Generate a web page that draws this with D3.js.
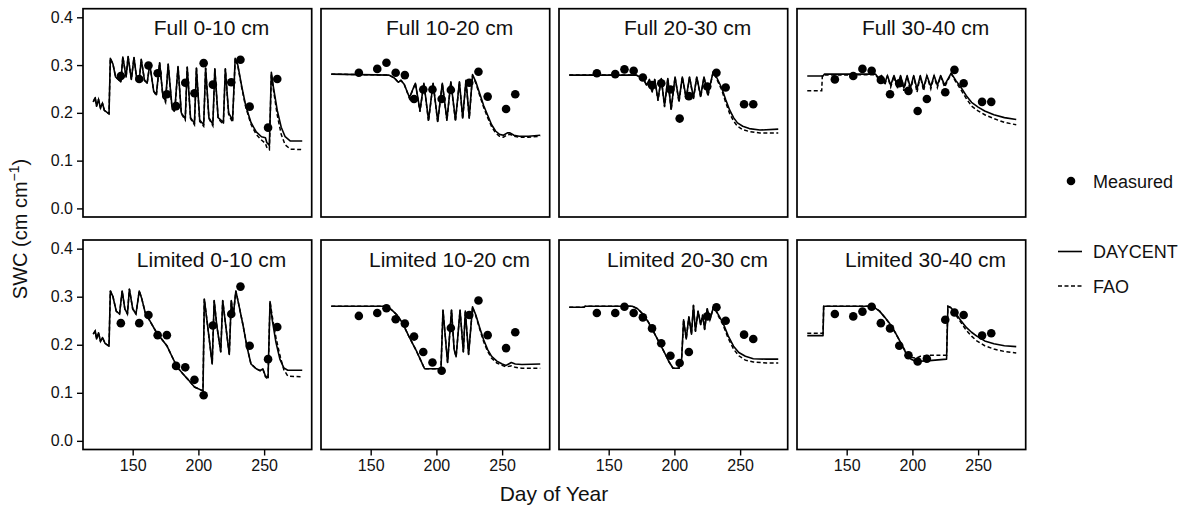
<!DOCTYPE html>
<html>
<head>
<meta charset="utf-8">
<script src="https://cdn.jsdelivr.net/npm/d3@7"></script>
<style>
  html, body { margin: 0; padding: 0; background: #fff; }
  svg { display: block; font-family: "Liberation Sans", Arial, Helvetica, sans-serif; }
</style>
</head>
<body>
<svg id="chart" width="1188" height="510"></svg>
<script>
// ---------------- DATA ----------------
const panelTitles = [
  "Full 0-10 cm", "Full 10-20 cm", "Full 20-30 cm", "Full 30-40 cm",
  "Limited 0-10 cm", "Limited 10-20 cm", "Limited 20-30 cm", "Limited 30-40 cm"
];
const xTicks = [150, 200, 250];
const yTicks = [0.0, 0.1, 0.2, 0.3, 0.4];
const yTickLabels = ["0.0", "0.1", "0.2", "0.3", "0.4"];
const xTitle = "Day of Year";
const legendLabels = ["Measured", "DAYCENT", "FAO"];

// measurement days (weekly sampling)
const measuredDays = [141, 155, 162, 169, 176, 183, 190, 197, 204, 211, 225, 232, 239, 253, 260];

const measured_full_0_10   = [0.277, 0.271, 0.299, 0.283, 0.239, 0.214, 0.263, 0.241, 0.304, 0.259, 0.264, 0.311, 0.213, 0.169, 0.271];
const measured_full_10_20  = [0.284, 0.292, 0.305, 0.284, 0.279, 0.229, 0.249, 0.249, 0.229, 0.248, 0.263, 0.286, 0.234, 0.208, 0.239];
const measured_full_20_30  = [0.283, 0.281, 0.291, 0.288, 0.274, 0.258, 0.262, 0.249, 0.188, 0.235, 0.255, 0.284, 0.253, 0.218, 0.218];
const measured_full_30_40  = [0.270, 0.277, 0.292, 0.288, 0.269, 0.239, 0.262, 0.246, 0.204, 0.229, 0.243, 0.290, 0.262, 0.223, 0.223];
const measured_lim_0_10    = [0.245, 0.245, 0.262, 0.220, 0.220, 0.156, 0.153, 0.127, 0.095, 0.240, 0.264, 0.321, 0.198, 0.170, 0.237];
const measured_lim_10_20   = [0.260, 0.266, 0.276, 0.253, 0.244, 0.217, 0.185, 0.163, 0.146, 0.235, 0.262, 0.292, 0.220, 0.193, 0.226];
const measured_lim_20_30   = [0.266, 0.266, 0.279, 0.266, 0.257, 0.234, 0.203, 0.177, 0.162, 0.185, 0.259, 0.278, 0.250, 0.221, 0.212];
const measured_lim_30_40   = [0.264, 0.259, 0.269, 0.279, 0.245, 0.234, 0.198, 0.178, 0.165, 0.171, 0.252, 0.267, 0.262, 0.219, 0.224];

// simulated series: [day, SWC]
const daycent_full_0_10 = [
  [120,0.223],[121.5,0.232],[122.5,0.214],[124,0.228],[125.5,0.210],[127,0.220],[128.5,0.205],[132,0.198],
  [133,0.314],[135,0.302],[137,0.275],[141,0.265],[142.5,0.317],[145,0.275],[146.5,0.318],[149,0.270],
  [151,0.316],[153,0.272],[155,0.268],[156.5,0.312],[159,0.268],[161,0.262],[163,0.302],[166,0.245],
  [168,0.238],[170.5,0.305],[173,0.235],[175,0.225],[177,0.302],[180,0.210],[182,0.205],[184.5,0.297],
  [187,0.200],[190,0.188],[191.5,0.296],[194,0.190],[197,0.178],[198.5,0.294],[201,0.185],[204,0.175],
  [205.5,0.294],[208,0.190],[211,0.176],[212.5,0.292],[215,0.190],[219,0.180],[220.5,0.292],[223,0.200],
  [226,0.185],[228,0.314],[230,0.300],[233,0.255],[236,0.215],[240,0.180],[244,0.160],[248,0.150],
  [251,0.148],[252,0.138],[254,0.132],[255.5,0.285],[257,0.255],[260,0.205],[263,0.170],[266,0.150],
  [270,0.141],[279,0.141]
];
const fao_full_0_10 = [
  [120,0.223],[121.5,0.232],[122.5,0.214],[124,0.228],[125.5,0.210],[127,0.220],[128.5,0.205],[132,0.198],
  [133,0.314],[135,0.302],[137,0.275],[141,0.265],[142.5,0.317],[145,0.275],[146.5,0.318],[149,0.270],
  [151,0.316],[153,0.272],[155,0.268],[156.5,0.312],[159,0.268],[161,0.262],[163,0.302],[166,0.245],
  [168,0.236],[170.5,0.305],[173,0.233],[175,0.222],[177,0.302],[180,0.208],[182,0.202],[184.5,0.297],
  [187,0.198],[190,0.185],[191.5,0.296],[194,0.188],[197,0.175],[198.5,0.294],[201,0.182],[204,0.172],
  [205.5,0.294],[208,0.188],[211,0.173],[212.5,0.292],[215,0.188],[219,0.176],[220.5,0.292],[223,0.197],
  [226,0.180],[228,0.314],[230,0.298],[233,0.252],[236,0.212],[240,0.176],[244,0.155],[248,0.143],
  [251,0.136],[252,0.128],[254,0.123],[255.5,0.282],[257,0.250],[260,0.195],[263,0.155],[266,0.133],
  [270,0.124],[279,0.123]
];

const daycent_full_10_20 = [
  [120,0.281],[164,0.279],[168,0.273],[171,0.264],[173,0.268],[175.5,0.260],[179.5,0.232],[184,0.262],
  [187.5,0.205],[190.5,0.262],[194,0.185],[197.5,0.262],[201,0.182],[204.5,0.262],[208,0.186],[211,0.265],
  [214.5,0.185],[217.5,0.265],[220,0.190],[222.5,0.268],[225,0.190],[227.5,0.280],[230,0.265],[233,0.240],
  [236,0.215],[239,0.195],[242,0.175],[245,0.162],[248,0.155],[251,0.153],[254,0.158],[256,0.158],
  [259,0.153],[263,0.151],[270,0.151],[279,0.153]
];
const fao_full_10_20 = [
  [120,0.281],[164,0.279],[168,0.273],[171,0.264],[173,0.268],[175.5,0.260],[179.5,0.230],[184,0.262],
  [187.5,0.202],[190.5,0.262],[194,0.182],[197.5,0.262],[201,0.180],[204.5,0.262],[208,0.183],[211,0.265],
  [214.5,0.182],[217.5,0.265],[220,0.187],[222.5,0.268],[225,0.188],[227.5,0.278],[230,0.262],[233,0.236],
  [236,0.211],[239,0.190],[242,0.171],[245,0.158],[248,0.151],[251,0.149],[254,0.154],[256,0.155],
  [259,0.151],[263,0.149],[270,0.149],[279,0.151]
];

const daycent_full_20_30 = [
  [120,0.279],[171,0.279],[174,0.275],[177,0.268],[179,0.258],[181,0.270],[183,0.245],[185,0.270],
  [187.5,0.228],[190,0.272],[192.5,0.215],[195,0.272],[197.5,0.208],[200.5,0.275],[203.5,0.225],[206,0.275],
  [209,0.232],[211.5,0.275],[214.5,0.232],[217,0.275],[220,0.235],[222.5,0.275],[225.5,0.238],[229.5,0.286],
  [232,0.275],[236,0.252],[239,0.228],[242,0.206],[245,0.190],[248,0.179],[252,0.172],[257,0.167],
  [265,0.164],[279,0.166]
];
const fao_full_20_30 = [
  [120,0.279],[171,0.279],[174,0.275],[177,0.268],[179,0.256],[181,0.270],[183,0.242],[185,0.270],
  [187.5,0.225],[190,0.272],[192.5,0.212],[195,0.272],[197.5,0.205],[200.5,0.275],[203.5,0.222],[206,0.275],
  [209,0.229],[211.5,0.275],[214.5,0.229],[217,0.275],[220,0.232],[222.5,0.275],[225.5,0.235],[229.5,0.285],
  [232,0.272],[236,0.248],[239,0.222],[242,0.199],[245,0.183],[248,0.172],[252,0.165],[257,0.161],
  [265,0.158],[279,0.158]
];

const daycent_full_30_40 = [
  [120,0.277],[132,0.277],[133,0.281],[172,0.281],[174.5,0.272],[176.5,0.278],[179,0.262],[181,0.278],
  [183.5,0.258],[186,0.278],[188.5,0.255],[191,0.278],[193.5,0.252],[196,0.278],[198.5,0.252],[201,0.278],
  [203.5,0.250],[206,0.278],[208.5,0.252],[211,0.278],[214,0.255],[216.5,0.278],[219,0.258],[221.5,0.278],
  [224.5,0.258],[229.5,0.283],[233,0.268],[237,0.253],[241,0.236],[245,0.222],[250,0.212],[255,0.204],
  [262,0.196],[270,0.190],[279,0.186]
];
const fao_full_30_40 = [
  [120,0.246],[131,0.246],[131.5,0.279],[172,0.280],[174.5,0.270],[176.5,0.277],[179,0.258],[181,0.277],
  [183.5,0.254],[186,0.277],[188.5,0.250],[191,0.277],[193.5,0.246],[196,0.277],[198.5,0.245],[201,0.277],
  [203.5,0.243],[206,0.277],[208.5,0.246],[211,0.277],[214,0.250],[216.5,0.277],[219,0.253],[221.5,0.277],
  [224.5,0.254],[229.5,0.282],[233,0.265],[237,0.248],[241,0.230],[245,0.214],[250,0.204],[255,0.196],
  [262,0.188],[270,0.180],[279,0.175]
];

const daycent_lim_0_10 = [
  [120,0.222],[121.5,0.229],[122.5,0.212],[124,0.225],[125.5,0.207],[127,0.215],[129,0.203],[132,0.197],
  [133,0.312],[135,0.300],[137.5,0.270],[140,0.264],[142,0.312],[144,0.275],[146,0.264],[147.5,0.316],
  [150,0.275],[152.5,0.264],[155,0.312],[157,0.295],[159.5,0.267],[163,0.250],[168,0.226],[172,0.212],
  [176,0.198],[180,0.175],[184,0.153],[188,0.140],[192,0.128],[197,0.112],[203.5,0.104],[204.5,0.295],
  [207,0.240],[210.5,0.160],[212,0.292],[214,0.240],[217,0.185],[218.5,0.292],[221,0.235],[223.5,0.180],
  [225,0.292],[226.5,0.260],[228.5,0.312],[231,0.280],[234,0.240],[237,0.195],[240,0.160],[244,0.150],
  [247,0.146],[249,0.150],[251,0.135],[253,0.132],[254.5,0.290],[256,0.255],[259,0.205],[262,0.170],
  [265,0.152],[268,0.147],[279,0.147]
];
const fao_lim_0_10 = [
  [120,0.222],[121.5,0.229],[122.5,0.212],[124,0.225],[125.5,0.207],[127,0.215],[129,0.203],[132,0.197],
  [133,0.312],[135,0.300],[137.5,0.270],[140,0.264],[142,0.312],[144,0.275],[146,0.264],[147.5,0.316],
  [150,0.275],[152.5,0.264],[155,0.312],[157,0.295],[159.5,0.267],[163,0.250],[168,0.226],[172,0.212],
  [176,0.198],[180,0.175],[184,0.153],[188,0.140],[192,0.128],[197,0.112],[203.5,0.104],[204.5,0.295],
  [207,0.240],[210.5,0.160],[212,0.292],[214,0.240],[217,0.185],[218.5,0.292],[221,0.235],[223.5,0.180],
  [225,0.292],[226.5,0.260],[228.5,0.312],[231,0.280],[234,0.240],[237,0.195],[240,0.160],[244,0.150],
  [247,0.146],[249,0.150],[251,0.133],[253,0.128],[254.5,0.290],[256,0.262],[259,0.215],[262,0.178],
  [265,0.148],[268,0.135],[279,0.133]
];

const daycent_lim_10_20 = [
  [120,0.280],[160,0.280],[164,0.277],[167,0.270],[170,0.262],[173,0.250],[176,0.235],[179,0.218],
  [182,0.202],[185,0.186],[188,0.168],[191,0.150],[203.5,0.150],[205,0.272],[208.5,0.163],[211.5,0.272],
  [213.5,0.190],[215,0.175],[218,0.272],[220.5,0.185],[222,0.270],[224.5,0.180],[227.5,0.279],[230,0.262],
  [233,0.235],[236,0.210],[239,0.190],[242,0.176],[246,0.166],[250,0.160],[253,0.157],[255,0.160],
  [257,0.163],[260,0.160],[265,0.159],[279,0.160]
];
const fao_lim_10_20 = [
  [120,0.280],[160,0.280],[164,0.277],[167,0.270],[170,0.262],[173,0.250],[176,0.235],[179,0.218],
  [182,0.202],[185,0.186],[188,0.168],[191,0.150],[203.5,0.150],[205,0.272],[208.5,0.163],[211.5,0.272],
  [213.5,0.190],[215,0.175],[218,0.272],[220.5,0.185],[222,0.270],[224.5,0.180],[227.5,0.278],[230,0.260],
  [233,0.232],[236,0.206],[239,0.186],[242,0.172],[246,0.162],[250,0.157],[253,0.154],[255,0.155],
  [257,0.156],[260,0.153],[265,0.151],[279,0.151]
];

const daycent_lim_20_30 = [
  [120,0.278],[131,0.278],[132,0.280],[168,0.280],[172,0.275],[176,0.264],[180,0.248],[184,0.228],
  [188,0.207],[192,0.186],[196,0.164],[199,0.151],[203.5,0.151],[205.5,0.170],[207,0.252],[209,0.212],
  [211,0.258],[213,0.222],[214.5,0.282],[216,0.228],[218,0.270],[220,0.242],[221.5,0.262],[223,0.232],
  [225,0.275],[227,0.252],[230,0.281],[233,0.265],[237,0.245],[241,0.218],[245,0.197],[249,0.184],
  [254,0.176],[260,0.171],[270,0.170],[279,0.170]
];
const fao_lim_20_30 = [
  [120,0.278],[131,0.278],[132,0.280],[168,0.280],[172,0.275],[176,0.264],[180,0.248],[184,0.228],
  [188,0.207],[192,0.186],[196,0.164],[199,0.151],[203.5,0.151],[205.5,0.170],[207,0.252],[209,0.212],
  [211,0.258],[213,0.222],[214.5,0.282],[216,0.228],[218,0.270],[220,0.242],[221.5,0.262],[223,0.232],
  [225,0.275],[227,0.252],[230,0.280],[233,0.262],[237,0.241],[241,0.213],[245,0.191],[249,0.177],
  [254,0.168],[260,0.164],[270,0.162],[279,0.162]
];

const daycent_lim_30_40 = [
  [120,0.219],[132,0.219],[132.5,0.280],[167.5,0.280],[171,0.278],[175,0.270],[179,0.257],[183,0.243],
  [187,0.225],[191,0.205],[195,0.183],[199,0.170],[203,0.165],[213,0.167],[226,0.170],[227,0.280],
  [229,0.278],[233,0.265],[237,0.250],[241,0.236],[245,0.226],[249,0.218],[255,0.208],[262,0.202],
  [270,0.198],[279,0.196]
];
const fao_lim_30_40 = [
  [120,0.224],[132,0.224],[132.5,0.280],[167.5,0.280],[171,0.278],[175,0.270],[179,0.257],[183,0.243],
  [187,0.225],[191,0.205],[195,0.185],[199,0.174],[203,0.172],[206,0.176],[213,0.178],[226,0.178],
  [227,0.280],[229,0.277],[233,0.262],[237,0.246],[241,0.230],[245,0.218],[249,0.208],[255,0.198],
  [262,0.191],[270,0.186],[279,0.183]
];

const daycentSeries = [daycent_full_0_10, daycent_full_10_20, daycent_full_20_30, daycent_full_30_40,
                       daycent_lim_0_10, daycent_lim_10_20, daycent_lim_20_30, daycent_lim_30_40];
const faoSeries = [fao_full_0_10, fao_full_10_20, fao_full_20_30, fao_full_30_40,
                   fao_lim_0_10, fao_lim_10_20, fao_lim_20_30, fao_lim_30_40];
const measuredSeries = [measured_full_0_10, measured_full_10_20, measured_full_20_30, measured_full_30_40,
                        measured_lim_0_10, measured_lim_10_20, measured_lim_20_30, measured_lim_30_40];

// ---------------- LAYOUT ----------------
const svg = d3.select("#chart");
svg.append("rect").attr("width", 1188).attr("height", 510).attr("fill", "#fff");

const panelW = 228.7;
const panelLeft0 = 83, panelStep = 238;
const rowTop = [8.7, 240], rowBottom = [217, 449.5];
const xDomain = [112.2, 286.2];
const yDomain = [-0.018, 0.418];
const titlePos = [210, 0.378];

const lineGen = (x, y) => d3.line().x(d => x(d[0])).y(d => y(d[1]));

for (let p = 0; p < 8; p++) {
  const row = Math.floor(p / 4), col = p % 4;
  const x0 = panelLeft0 + col * panelStep;
  const x = d3.scaleLinear().domain(xDomain).range([x0, x0 + panelW]);
  const y = d3.scaleLinear().domain(yDomain).range([rowBottom[row], rowTop[row]]);
  const g = svg.append("g");

  // FAO dashed
  g.append("path").datum(faoSeries[p])
    .attr("d", lineGen(x, y)).attr("fill", "none")
    .attr("stroke", "#000").attr("stroke-width", 1.5)
    .attr("stroke-dasharray", "4,2.5");
  // DAYCENT solid
  g.append("path").datum(daycentSeries[p])
    .attr("d", lineGen(x, y)).attr("fill", "none")
    .attr("stroke", "#000").attr("stroke-width", 1.6)
    .attr("stroke-linejoin", "round");
  // measured points
  g.selectAll("circle.m").data(measuredSeries[p]).enter().append("circle")
    .attr("cx", (d, i) => x(measuredDays[i])).attr("cy", d => y(d))
    .attr("r", 4.3).attr("fill", "#000");

  // panel title
  g.append("text").attr("x", x(titlePos[0])).attr("y", y(titlePos[1]) + 7.3)
    .attr("text-anchor", "middle").attr("font-size", 21).attr("fill", "#111")
    .text(panelTitles[p]);

  // border
  g.append("rect").attr("x", x0).attr("y", rowTop[row])
    .attr("width", panelW).attr("height", rowBottom[row] - rowTop[row])
    .attr("fill", "none").attr("stroke", "#000").attr("stroke-width", 1.7);

  // y axis on first column
  if (col === 0) {
    const ax = g.append("g").attr("transform", `translate(${x0},0)`)
      .call(d3.axisLeft(y).tickValues(yTicks).tickFormat((d, i) => yTickLabels[i]).tickSize(6).tickPadding(4));
    ax.select(".domain").remove();
    ax.selectAll("line").attr("stroke", "#000").attr("stroke-width", 1.4);
    ax.selectAll("text").attr("font-size", 16).attr("fill", "#111")
      .attr("font-family", "'Liberation Sans', Arial, sans-serif");
  }
  // x axis on bottom row
  if (row === 1) {
    const ax = g.append("g").attr("transform", `translate(0,${rowBottom[row]})`)
      .call(d3.axisBottom(x).tickValues(xTicks).tickFormat(d3.format("d")).tickSize(6).tickPadding(4));
    ax.select(".domain").remove();
    ax.selectAll("line").attr("stroke", "#000").attr("stroke-width", 1.4);
    ax.selectAll("text").attr("font-size", 16).attr("fill", "#111")
      .attr("font-family", "'Liberation Sans', Arial, sans-serif");
  }
}

// axis titles
svg.append("text").attr("x", 554).attr("y", 501).attr("text-anchor", "middle")
  .attr("font-size", 21).attr("fill", "#111").text(xTitle);

const yt = svg.append("text").attr("transform", "translate(27,229) rotate(-90)")
  .attr("text-anchor", "middle").attr("font-size", 20).attr("fill", "#111");
yt.append("tspan").text("SWC (cm cm");
yt.append("tspan").attr("font-size", 14).attr("dy", -8).text("\u22121");
yt.append("tspan").attr("dy", 8).text(")");

// legend
const lg = svg.append("g");
lg.append("circle").attr("cx", 1071).attr("cy", 181).attr("r", 4.3).attr("fill", "#000");
lg.append("text").attr("x", 1093).attr("y", 187.5).attr("font-size", 18).attr("fill", "#111").text(legendLabels[0]);
lg.append("line").attr("x1", 1058).attr("x2", 1082).attr("y1", 251.5).attr("y2", 251.5)
  .attr("stroke", "#000").attr("stroke-width", 1.6);
lg.append("text").attr("x", 1093).attr("y", 258).attr("font-size", 18).attr("fill", "#111").text(legendLabels[1]);
lg.append("line").attr("x1", 1058).attr("x2", 1082).attr("y1", 286).attr("y2", 286)
  .attr("stroke", "#000").attr("stroke-width", 1.5).attr("stroke-dasharray", "4,2.5");
lg.append("text").attr("x", 1093).attr("y", 292.5).attr("font-size", 18).attr("fill", "#111").text(legendLabels[2]);
</script>
</body>
</html>
